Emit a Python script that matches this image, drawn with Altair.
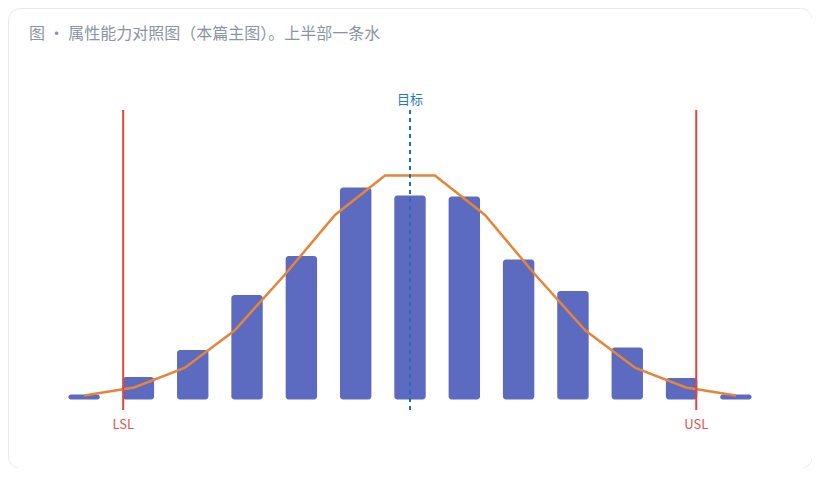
import altair as alt
import pandas as pd

# ---- data ----
bin_centers = [9.4, 9.5, 9.6, 9.7, 9.8, 9.9, 10.0, 10.1, 10.2, 10.3, 10.4, 10.5, 10.6]
counts = [1.0, 4.5, 9.9, 20.9, 28.7, 42.4, 40.8, 40.6, 28.0, 21.7, 10.4, 4.3, 1.0]

fit_x = [9.400, 9.492, 9.585, 9.677, 9.769, 9.862, 9.954, 10.046, 10.138, 10.231,
         10.323, 10.415, 10.508, 10.600]
fit_y = [0.8, 2.4, 6.3, 13.8, 24.9, 36.9, 44.8, 44.8, 36.9, 24.9, 13.8, 6.3, 2.4, 0.8]

spec_names = ["LSL", "USL"]
spec_values = [9.472, 10.527]
target_name = "目标"
target_value = 10.0

line_top = 57.9
line_bottom = -2.1
spec_label_y = -5.1
target_label_y = 60.0

title_text = "图 · 属性能力对照图（本篇主图）。上半部一条水"

FONT = "Noto Sans CJK SC"
W, H = 804, 460

bars_df = pd.DataFrame({"x": bin_centers, "count": counts})
fit_df = pd.DataFrame({"x": fit_x, "y": fit_y})
spec_df = pd.DataFrame({"name": spec_names, "x": spec_values,
                        "top": [line_top] * 2, "bottom": [line_bottom] * 2,
                        "ly": [spec_label_y] * 2})
target_df = pd.DataFrame({"name": [target_name], "x": [target_value],
                          "top": [line_top], "bottom": [line_bottom],
                          "ly": [target_label_y]})
title_df = pd.DataFrame({"t": [title_text]})

xs = alt.Scale(domain=[9.2691, 10.7309], nice=False, zero=False)
ys = alt.Scale(domain=[-13.7, 78.3], nice=False, zero=False)

X = lambda f="x": alt.X(f"{f}:Q", scale=xs, axis=None)
Y = lambda f: alt.Y(f"{f}:Q", scale=ys, axis=None)

bars = alt.Chart(bars_df).mark_bar(size=31.4, cornerRadius=3, color="#5c6bc0").encode(
    x=X(), y=Y("count"), y2=alt.datum(0)
)

fit = alt.Chart(fit_df).mark_line(color="#e8843a", strokeWidth=2.5).encode(
    x=X(), y=Y("y")
)

spec_rules = alt.Chart(spec_df).mark_rule(color="#e2453a", strokeWidth=2).encode(
    x=X(), y=Y("top"), y2="bottom:Q"
)
spec_text = alt.Chart(spec_df).mark_text(
    color="#e05548", font=FONT, fontSize=13, baseline="middle", align="center"
).encode(x=X(), y=Y("ly"), text="name:N")

target_rule = alt.Chart(target_df).mark_rule(
    color="#1f6db5", strokeWidth=2, strokeDash=[4, 4]
).encode(x=X(), y=Y("top"), y2="bottom:Q")
target_text = alt.Chart(target_df).mark_text(
    color="#2a78c2", font=FONT, fontSize=13, baseline="middle", align="center"
).encode(x=X(), y=Y("ly"), text="name:N")

title = alt.Chart(title_df).mark_text(
    color="#8a94a3", font=FONT, fontSize=16, baseline="middle", align="left"
).encode(x=alt.value(21), y=alt.value(26), text="t:N")

chart = alt.layer(bars, fit, spec_rules, target_rule, spec_text, target_text, title).properties(
    width=W, height=H, padding=0, autosize=alt.AutoSizeParams(type="none"),
    background="#ffffff"
).configure_view(
    stroke="#e6e9ef", strokeWidth=1, cornerRadius=12
)

chart.save("out.html", embed_options={"renderer": "svg", "actions": False})
